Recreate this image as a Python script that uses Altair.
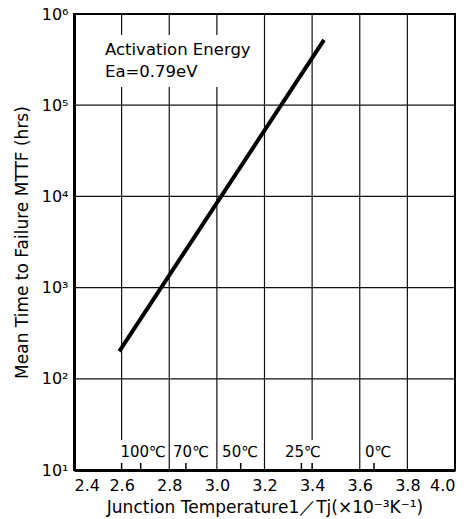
import altair as alt
import pandas as pd

# ---- data ----
x_ticks = [2.4, 2.6, 2.8, 3.0, 3.2, 3.4, 3.6, 3.8, 4.0]
y_ticks = [1e1, 1e2, 1e3, 1e4, 1e5, 1e6]
grid_x_full = [2.8, 3.0, 3.2, 3.6, 3.8]
grid_x_broken = [2.6, 3.4]
grid_y = [1e2, 1e3, 1e4, 1e5]

line_x = [2.59, 3.45]
line_y = [200, 5.2e5]

temp_labels = ["100℃", "70℃", "50℃", "25℃", "0℃"]
temp_label_x = [2.595, 2.816, 3.022, 3.286, 3.622]
temp_tick_x = [2.6, 2.68, 2.87, 3.10, 3.355, 3.4, 3.66]

note_lines = ["Activation Energy", "Ea=0.79eV"]

FONT = "DejaVu Sans"
W, H = 381, 456

xs = alt.Scale(domain=[2.4, 4.0], nice=False, zero=False)
ys = alt.Scale(type="log", domain=[10, 1e6], nice=False)

x_axis = alt.Axis(values=x_ticks, format=".1f", labelFontSize=16, labelFont=FONT,
                  labelColor="black", ticks=False, grid=False, domainColor="black",
                  domainWidth=3, labelPadding=7, title="Junction Temperature1／Tj(×10⁻³K⁻¹)",
                  titleFontSize=17, titleFont=FONT, titleFontWeight="normal",
                  titleColor="black", titlePadding=6)
y_axis = alt.Axis(values=y_ticks, labelFontSize=16, labelFont=FONT, labelColor="black",
                  labelExpr="'10' + ['⁰','¹','²','³','⁴','⁵','⁶'][round(log(datum.value)/LN10)]",
                  ticks=False, grid=False, domainColor="black", domainWidth=3,
                  labelPadding=6, title="Mean Time to Failure MTTF (hrs)",
                  titleFontSize=17, titleFont=FONT, titleFontWeight="normal",
                  titleColor="black", titlePadding=10)

X = lambda f: alt.X(f, scale=xs, axis=x_axis)
Y = lambda f: alt.Y(f, scale=ys, axis=y_axis)

df_line = pd.DataFrame({"x": line_x, "y": line_y})

vfull = alt.Chart(pd.DataFrame({"x": grid_x_full})).mark_rule(color="#111", strokeWidth=1.2).encode(
    x=X("x:Q"), y=alt.value(0), y2=alt.value(H))
vbroken = alt.Chart(pd.DataFrame({"x": grid_x_broken})).mark_rule(color="#111", strokeWidth=1.2).encode(
    x=X("x:Q"), y=alt.value(0), y2=alt.value(426))
hgrid = alt.Chart(pd.DataFrame({"y": grid_y})).mark_rule(color="#111", strokeWidth=1.2).encode(
    y=Y("y:Q"), x=alt.value(0), x2=alt.value(W))
tticks = alt.Chart(pd.DataFrame({"x": temp_tick_x})).mark_rule(color="black", strokeWidth=1.5).encode(
    x=X("x:Q"), y=alt.value(H - 7), y2=alt.value(H))
tlabels = alt.Chart(pd.DataFrame({"x": temp_label_x, "t": temp_labels})).mark_text(
    align="left", baseline="middle", fontSize=15, font=FONT, color="black").encode(
    x=X("x:Q"), y=alt.value(438), text="t:N")

# white box behind the annotation (the grid is interrupted there)
note_bg = alt.Chart(pd.DataFrame({"t": ["bg"]})).mark_rect(color="white").encode(
    x=alt.value(27), x2=alt.value(185), y=alt.value(21), y2=alt.value(73))
note1 = alt.Chart(pd.DataFrame({"t": [note_lines[0]]})).mark_text(
    align="left", baseline="middle", fontSize=16.5, font=FONT, color="black").encode(
    x=alt.value(31), y=alt.value(36), text="t:N")
note2 = alt.Chart(pd.DataFrame({"t": [note_lines[1]]})).mark_text(
    align="left", baseline="middle", fontSize=16.5, font=FONT, color="black").encode(
    x=alt.value(31), y=alt.value(58), text="t:N")

main = alt.Chart(df_line).mark_line(color="black", strokeWidth=4, clip=True).encode(
    x=X("x:Q"), y=Y("y:Q"))

chart = alt.layer(vfull, vbroken, hgrid, tticks, tlabels, note_bg, note1, note2, main).properties(
    width=W, height=H,
    autosize=alt.AutoSizeParams(type="none"),
    padding={"left": 74, "top": 14, "right": 11, "bottom": 49},
    background="white",
).configure_view(stroke="black", strokeWidth=2)

chart.save("out.html", embed_options={"renderer": "svg", "actions": False})
